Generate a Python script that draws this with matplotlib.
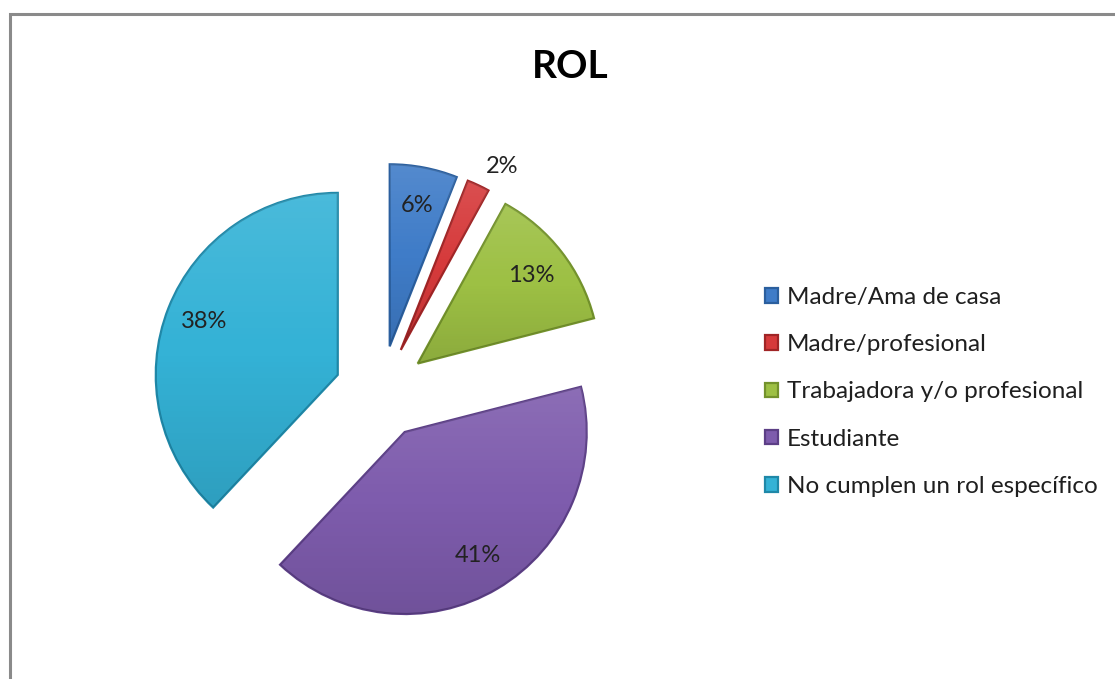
import numpy as np
import matplotlib
matplotlib.use("Agg")
import matplotlib.pyplot as plt
from matplotlib.patches import Rectangle

# ---- data ----
categories = ["Madre/Ama de casa", "Madre/profesional", "Trabajadora y/o profesional",
              "Estudiante", "No cumplen un rol específico"]
values = [6, 2, 13, 41, 38]
colors = ["#3F7CC8", "#D63A3B", "#9DC044", "#7E5CAD", "#34B2D6"]
edge_colors = ["#2B5F9E", "#A02526", "#73922C", "#5C3F86", "#1F88A8"]
title = "ROL"

W, H = 1115, 679
plt.rcParams['font.family'] = ['Lato', 'DejaVu Sans']

fig = plt.figure(figsize=(W / 100, H / 100), dpi=100)
ax = fig.add_axes([0, 0, 1, 1])

# frame border
ax.add_patch(Rectangle((10, -20), W + 20, H - 14 + 20, fill=False,
                       edgecolor="#8a8a8a", linewidth=2.2, zorder=0))

radius = 182
center = (381, H - 392)
explode = [46.5] * len(values)

wedges, texts, autotexts = ax.pie(
    values, colors=colors, explode=explode, startangle=90, counterclock=False,
    radius=radius, center=center, autopct='%1.0f%%', pctdistance=0.79,
    wedgeprops=dict(linewidth=1.6), textprops=dict(fontsize=17, color="#222222"),
    frame=True)
ax.set_xlim(0, W)
ax.set_ylim(0, H)
ax.set_aspect('equal')
ax.axis('off')

for w, ec in zip(wedges, edge_colors):
    w.set_edgecolor(ec)

# subtle vertical shading clipped to each wedge (bevel-like look)
grad = np.linspace(1, 0, 64)[:, None]
for w in wedges:
    bb = w.get_path().get_extents(w.get_patch_transform())
    rgba = np.zeros((64, 2, 4))
    rgba[..., :3] = np.where(grad[..., None] > 0.5, 1.0, 0.0)
    rgba[..., 3] = (np.abs(grad - 0.5) * 0.22)
    im = ax.imshow(rgba, extent=(bb.x0, bb.x1, bb.y0, bb.y1), origin='upper',
                   aspect='auto', zorder=w.get_zorder() + 0.1, interpolation='bilinear')
    im.set_clip_path(w)
ax.set_xlim(0, W)
ax.set_ylim(0, H)
for t in autotexts:
    t.set_zorder(5)

# small slices: put label outside, beyond the trailing edge
for w, t, v in zip(wedges, autotexts, values):
    if v < 5:
        th = np.deg2rad(min(w.theta1, w.theta2))
        cx, cy = w.center
        t.set_position((cx + 1.15 * radius * np.cos(th), cy + 1.15 * radius * np.sin(th)))

fig.text(570 / W, 1 - 66 / H, title, ha='center', va='center',
         fontsize=28, fontweight='bold', color='black')

leg = ax.legend(wedges, categories, loc='upper left',
                bbox_to_anchor=(765, H - 287), bbox_transform=ax.transData,
                frameon=False, fontsize=17.5, handlelength=0.55, handleheight=0.55,
                handletextpad=0.35, labelspacing=1.08, borderpad=0, borderaxespad=0)
for t in leg.get_texts():
    t.set_color("#1f1f1f")

fig.savefig("out.png", dpi=100, facecolor="white")
